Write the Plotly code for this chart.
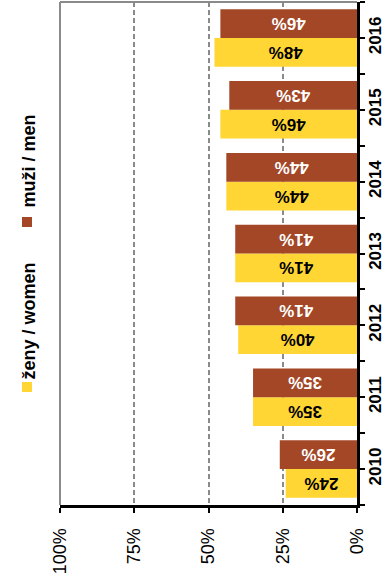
import plotly.graph_objects as go

# Share of women and men (in %) per year
years = [2010, 2011, 2012, 2013, 2014, 2015, 2016]
women = [24, 35, 40, 41, 44, 46, 48]
men = [26, 35, 41, 41, 44, 43, 46]
pct_ticks = [0, 25, 50, 75, 100]
women_label = "ženy / women"
men_label = "muži / men"

WOMEN_COLOR = "#FFD634"
MEN_COLOR = "#A34727"

fig = go.Figure()

fig.add_trace(go.Bar(
    y=years, x=women, orientation="h", name=women_label,
    marker=dict(color=WOMEN_COLOR, line=dict(width=0)),
    texttemplate="%{x}%", textposition="inside", insidetextanchor="middle",
    textangle=180,
    textfont=dict(family="Liberation Sans", size=17, color="black", weight="bold"),
))
fig.add_trace(go.Bar(
    y=years, x=men, orientation="h", name=men_label,
    marker=dict(color=MEN_COLOR, line=dict(width=0)),
    texttemplate="%{x}%", textposition="inside", insidetextanchor="middle",
    textangle=180,
    textfont=dict(family="Liberation Sans", size=17, color="white", weight="bold"),
))

# ticks at every category boundary and centre, labels only at centres
ytickvals = []
yticktext = []
for y in years:
    ytickvals += [y - 0.5, y]
    yticktext += ["", str(y)]
ytickvals.append(years[-1] + 0.5)
yticktext.append("")

W, H = 385, 580
ML, MR, MT, MB = 60, 28, 2, 75
pw, ph = W - ML - MR, H - MT - MB


def px_x(p):
    return (p - ML) / pw


def px_y(p):
    return 1 - (p - MT) / ph


fig.update_layout(
    width=W, height=H,
    margin=dict(l=ML, r=MR, t=MT, b=MB, pad=0, autoexpand=False),
    paper_bgcolor="white", plot_bgcolor="white",
    barmode="group", bargap=0.2, bargroupgap=0,
    showlegend=False,
    font=dict(family="Liberation Sans", color="black"),
    xaxis=dict(
        range=[100, 0], tickvals=pct_ticks,
        ticktext=[f"{v}%" for v in pct_ticks],
        tickangle=-90, tickfont=dict(size=18), ticklabelstandoff=8,
        ticks="outside", ticklen=5, tickwidth=2, tickcolor="black",
        showline=True, linecolor="black", linewidth=3,
        showgrid=True, gridcolor="#8a8a8a", griddash="5px,3px", gridwidth=2,
        zeroline=False, fixedrange=True, automargin=False,
    ),
    yaxis=dict(
        side="right", range=[years[0] - 0.5, years[-1] + 0.5],
        tickvals=ytickvals, ticktext=yticktext,
        tickangle=-90, tickfont=dict(size=17, weight="bold"),
        ticklabelstandoff=-4,
        ticks="outside", ticklen=5, tickwidth=2, tickcolor="black",
        showline=True, linecolor="black", linewidth=3,
        showgrid=False, zeroline=False, fixedrange=True, automargin=False,
    ),
)

# grey frame on the top and left edges of the plot area
fig.add_shape(type="line", xref="paper", yref="paper", x0=0, x1=1, y0=1, y1=1,
              line=dict(color="#8a8a8a", width=2))
fig.add_shape(type="line", xref="paper", yref="paper", x0=0, x1=0, y0=0, y1=1,
              line=dict(color="#8a8a8a", width=2))

# rotated legend on the left
legend_items = [
    (men_label, MEN_COLOR, 217, 113, 210),
    (women_label, WOMEN_COLOR, 382, 265, 378),
]
for label, color, sq_top, txt_top, txt_bot in legend_items:
    fig.add_shape(type="rect", xref="paper", yref="paper",
                  x0=px_x(22), x1=px_x(32), y0=px_y(sq_top + 10), y1=px_y(sq_top),
                  fillcolor=color, line=dict(width=0))
    fig.add_annotation(
        xref="paper", yref="paper", x=px_x(28), y=px_y((txt_top + txt_bot) / 2),
        text=f"<b>{label}</b>", textangle=-90, showarrow=False,
        font=dict(size=18, color="black"), xanchor="center", yanchor="middle",
    )

fig.write_html("out.html")
